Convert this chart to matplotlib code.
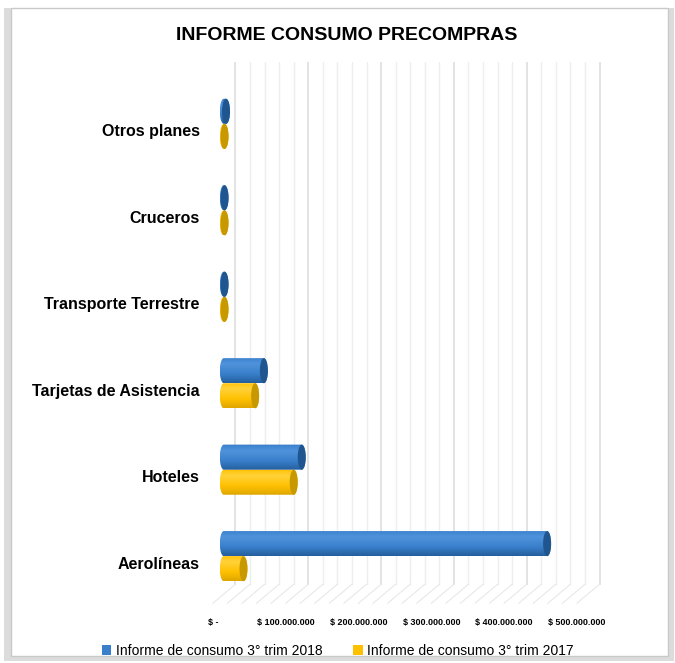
import numpy as np
import matplotlib
matplotlib.use("Agg")
import matplotlib.pyplot as plt
from matplotlib.patches import Ellipse, Rectangle, PathPatch, Patch
from matplotlib.path import Path
from matplotlib.colors import LinearSegmentedColormap

plt.rcParams['font.family'] = ['Liberation Sans', 'DejaVu Sans']

# data (bottom to top)
categories = ["Aerolíneas", "Hoteles", "Tarjetas de Asistencia",
              "Transporte Terrestre", "Cruceros", "Otros planes"]
trim_2018 = [444e6, 107e6, 55e6, 1e6, 1e6, 3e6]
trim_2017 = [27e6, 96e6, 43e6, 1e6, 1e6, 1e6]
series_labels = ["Informe de consumo 3° trim 2018", "Informe de consumo 3° trim 2017"]
tick_values = [0, 100e6, 200e6, 300e6, 400e6, 500e6]
tick_labels = ["$ -", "$ 100.000.000", "$ 200.000.000", "$ 300.000.000",
               "$ 400.000.000", "$ 500.000.000"]

blue = "#3A7FCB"
blue_light = "#4F93DC"
blue_dark = "#245F9E"
blue_cap = "#1F5690"
yellow = "#FFC000"
yellow_light = "#FFD23A"
yellow_dark = "#E0A600"
yellow_cap = "#C89800"

# 3D look: back wall shifted right, front floor shifted left
back_shift = 16e6
front_shift = -15e6

fig = plt.figure(figsize=(6.75, 6.63), dpi=100)
fig.patch.set_facecolor("white")

# outer frame with soft shadow
fig.add_artist(Rectangle((0.006, 0.003), 0.992, 0.985, transform=fig.transFigure,
                         facecolor="#dcdcdc", edgecolor="none", zorder=-2))
fig.add_artist(Rectangle((0.016, 0.010), 0.974, 0.978, transform=fig.transFigure,
                         facecolor="white", edgecolor="#c9c9c9", lw=1.0, zorder=-1))

ax = fig.add_axes([0.310, 1 - 605 / 663, 0.5825, 543 / 663])
ax.patch.set_alpha(0)
xlim = (-20e6, 520e6)
ylim = (-0.49, 5.79)

# grid on back wall + floor lines
for gx in np.arange(0, 500e6 + 1, 20e6):
    major = gx % 100e6 == 0
    ax.plot([gx + back_shift] * 2, [-0.25, ylim[1]],
            color="#e0e0e0" if major else "#eeeeee",
            lw=1.3 if major else 1.0, zorder=0)
    ax.plot([gx + back_shift, gx + front_shift], [-0.25, -0.47],
            color="#e8e8e8", lw=0.8, zorder=0)

bar_h = 0.29
rx = 5.5e6  # half width of cap ellipse in data units


def cylinder(value, yc, light, base, dark, cap):
    x1 = max(value, 0.5e6)
    t = np.linspace(np.pi / 2, 3 * np.pi / 2, 30)
    left = np.column_stack([rx * np.cos(t), yc + bar_h / 2 * np.sin(t)])
    t2 = np.linspace(-np.pi / 2, np.pi / 2, 30)
    right = np.column_stack([x1 + rx * np.cos(t2), yc + bar_h / 2 * np.sin(t2)])
    verts = np.vstack([left, right, left[:1]])
    codes = [Path.MOVETO] + [Path.LINETO] * (len(verts) - 2) + [Path.CLOSEPOLY]
    shape = PathPatch(Path(verts, codes), facecolor="none", edgecolor="none")
    ax.add_patch(shape)
    cmap = LinearSegmentedColormap.from_list(
        "c", [(0, dark), (0.35, base), (0.75, light), (1, base)])
    shades = np.linspace(0, 1, 64)[:, None]
    img = ax.imshow(shades, cmap=cmap, vmin=0, vmax=1, aspect="auto",
                    extent=[-rx, x1 + rx, yc - bar_h / 2, yc + bar_h / 2],
                    origin="lower", zorder=2, interpolation="bilinear")
    img.set_clip_path(shape)
    ax.add_patch(Ellipse((x1, yc), 2 * rx, bar_h, facecolor=cap,
                         edgecolor="none", zorder=3))


for i in range(len(categories)):
    cylinder(trim_2017[i], i - 0.07, yellow_light, yellow, yellow_dark, yellow_cap)
    cylinder(trim_2018[i], i + 0.22, blue_light, blue, blue_dark, blue_cap)

ax.set_xlim(*xlim)
ax.set_ylim(*ylim)
ax.set_yticks(range(len(categories)))
ax.set_yticklabels(categories, fontsize=11.5, fontweight="bold")
ax.set_xticks([v + front_shift for v in tick_values])
ax.set_xticklabels(tick_labels, fontsize=6.5, fontweight="bold")
ax.tick_params(axis="both", length=0)
ax.tick_params(axis="x", pad=9)
ax.tick_params(axis="y", pad=7)
for s in ax.spines.values():
    s.set_visible(False)

fig.text(0.514, 0.947, "INFORME CONSUMO PRECOMPRAS", ha="center", va="center",
         fontsize=14, fontweight="bold")

handles = [Patch(facecolor=blue), Patch(facecolor=yellow)]
fig.legend(handles, series_labels, loc="center", bbox_to_anchor=(0.5, 0.018),
           ncol=2, frameon=False, fontsize=10, handlelength=0.7, handleheight=0.7,
           handletextpad=0.3, columnspacing=2.2)

fig.savefig("out.png", dpi=100)
